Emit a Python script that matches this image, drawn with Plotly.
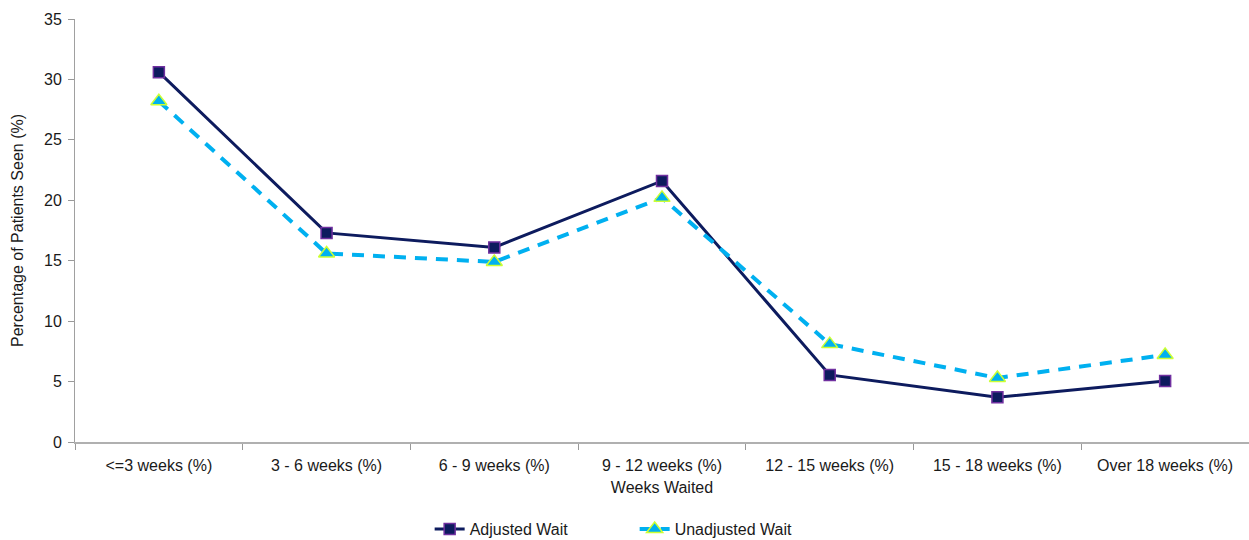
import plotly.graph_objects as go

categories = ["<=3 weeks (%)", "3 - 6 weeks (%)", "6 - 9 weeks (%)", "9 - 12 weeks (%)",
              "12 - 15 weeks (%)", "15 - 18 weeks (%)", "Over 18 weeks (%)"]
adjusted = [30.6, 17.3, 16.1, 21.6, 5.55, 3.7, 5.05]
unadjusted = [28.2, 15.6, 14.9, 20.2, 8.1, 5.3, 7.2]

font_family = "Liberation Sans, Arial, sans-serif"

fig = go.Figure()
fig.add_trace(go.Scatter(
    x=categories, y=adjusted, name="Adjusted Wait", mode="lines+markers",
    line=dict(color="#0d1b5e", width=3),
    marker=dict(symbol="square", size=11, color="#0d1b5e",
                line=dict(color="#7030a0", width=1.5)),
))
fig.add_trace(go.Scatter(
    x=categories, y=unadjusted, name="Unadjusted Wait", mode="lines+markers",
    line=dict(color="#00b0f0", width=4, dash="12px,9px"),
    marker=dict(symbol="triangle-up", size=14, color="#00b0f0",
                line=dict(color="#ccff33", width=1.5)),
))

fig.update_layout(
    width=1249, height=540,
    margin=dict(l=75, r=0, t=19, b=98, autoexpand=False),
    paper_bgcolor="white", plot_bgcolor="white",
    font=dict(family=font_family, size=16, color="#1a1a1a"),
    showlegend=True,
    legend=dict(orientation="h", xref="container", x=0.344, xanchor="left",
                yref="container", y=0.02, yanchor="middle",
                font=dict(size=16), entrywidth=160, entrywidthmode="pixels"),
    xaxis=dict(
        type="category", tickson="boundaries", ticks="outside", ticklen=6,
        tickcolor="#999999", showline=True, linecolor="#b0b0b0", linewidth=2,
        showgrid=False, tickfont=dict(size=16), automargin=False,
        ticklabelstandoff=8,
        title=dict(text="Weeks Waited", font=dict(size=16), standoff=9),
        range=[-0.5, 6.5],
    ),
    yaxis=dict(
        range=[0, 35], dtick=5, ticks="outside", ticklen=6, tickcolor="#999999",
        showline=True, linecolor="#a0a0a0", linewidth=1, showgrid=False,
        zeroline=False, tickfont=dict(size=16), automargin=False,
        ticklabelstandoff=3,
        title=dict(text="Percentage of Patients Seen (%)", font=dict(size=16), standoff=16),
    ),
)

fig.write_html("out.html", config={"displayModeBar": False},
               post_script="document.body.style.margin='0';document.body.style.overflow='hidden';")
